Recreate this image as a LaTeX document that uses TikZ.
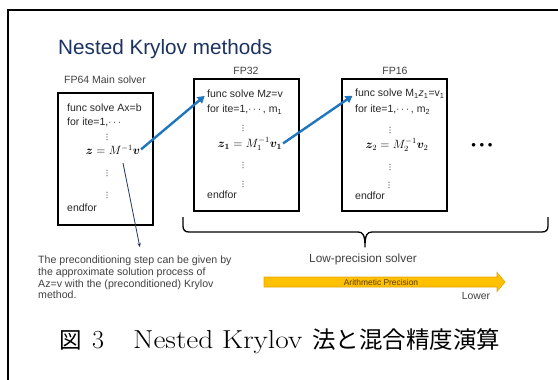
\documentclass[tikz,border=0pt]{standalone}
\usepackage{fontspec}
\usepackage{amsmath,bm}
\setsansfont{Liberation Sans}
\newfontfamily\cjk{Noto Sans CJK JP}
\usetikzlibrary{arrows.meta,calc}
\definecolor{titleblue}{RGB}{28,50,96}
\definecolor{arrowblue}{RGB}{31,117,190}
\definecolor{notenavy}{RGB}{30,50,100}
\definecolor{gold}{RGB}{255,192,0}
\definecolor{golddark}{RGB}{225,165,0}
\definecolor{txtgray}{RGB}{64,64,64}
\definecolor{precbrown}{RGB}{85,60,0}
% vertical dots drawn as three small discs
\newcommand\vdt[2]{\fill[black!75] (#1,#2-2.7) circle (0.6pt) (#1,#2) circle (0.6pt) (#1,#2+2.7) circle (0.6pt);}
\tikzset{
  codebox/.style={draw, line width=1.3pt, minimum width=#1, minimum height=132pt, inner sep=0pt},
  codetxt/.style={font=\sffamily\fontsize{10.5}{12}\selectfont, text=black!85, inner sep=0pt, anchor=west},
  mathtxt/.style={font=\fontsize{12}{14}\selectfont, inner sep=0pt},
  lbl/.style={font=\sffamily\fontsize{10.5}{12}\selectfont, text=txtgray, inner sep=0pt},
  bluearrow/.style={draw=arrowblue, line width=2.4pt, -{Triangle[length=7pt,width=8pt]}, shorten >=3pt, shorten <=1pt},
  noteline/.style={draw=notenavy, line width=0.8pt, -{Stealth[length=4pt,width=3.5pt]}}
}
\begin{document}
\begin{tikzpicture}[x=1pt,y=-1pt]
\useasboundingbox (0,0) rectangle (558,380);
\fill[white] (0,0) rectangle (558,380);
% outer frame (left and top edges visible)
\draw[line width=1.6pt] (8,380) -- (8,10) -- (558,10);

% title
\node[anchor=base west, inner sep=0pt, font=\sffamily\fontsize{20.7}{24}\selectfont, text=titleblue] (title) at (58,54.3) {Nested Krylov methods};

% labels
\node[lbl] (fp64) at (105,80) {FP64 Main solver};
\node[lbl] (fp32) at (246,71) {FP32};
\node[lbl] (fp16) at (395,71) {FP16};

% box 1
\node[codebox=95pt] (b1) at (105.5,159) {};
\node[codetxt] (b1l1) at (67,107.7) {func solve Ax=b};
\node[codetxt] (b1l2) at (67,122.7) {for ite=1,$\cdots$};
\vdt{107}{137}
\node[mathtxt] (b1z) at (113,150) {$\bm{z}=M^{-1}\bm{v}$};
\vdt{107}{173}
\vdt{107}{195}
\node[codetxt] (b1l3) at (67,208) {endfor};

% box 2
\node[codebox=105pt] (b2) at (246.5,145) {};
\node[codetxt] (b2l1) at (207,94) {func solve M\textit{z}=v};
\node[codetxt] (b2l2) at (207,110) {for ite=1,$\cdots$, m\textsubscript{1}};
\vdt{243}{128}
\node[mathtxt] (b2z) at (250,144) {$\bm{z_1}=M_1^{-1}\bm{v_1}$};
\vdt{243}{165}
\vdt{243}{184}
\node[codetxt] (b2l3) at (207,195) {endfor};

% box 3
\node[codebox=105pt] (b3) at (394.5,145) {};
\node[codetxt] (b3l1) at (355,94) {func solve M\textsubscript{1}\textit{z}\textsubscript{1}=v\textsubscript{1}};
\node[codetxt] (b3l2) at (355,110) {for ite=1,$\cdots$, m\textsubscript{2}};
\vdt{390}{130}
\node[mathtxt] (b3z) at (397,145) {$\bm{z}_2=M_2^{-1}\bm{v}_2$};
\vdt{390}{167}
\vdt{389}{185}
\node[codetxt] (b3l3) at (355,196) {endfor};

% continuation dots
\node[inner sep=0pt, font=\fontsize{9}{10}\selectfont] (dots) at (482,145) {$\bullet\,\bullet\,\bullet$};

% blue arrows
\draw[bluearrow] (b1z.east) -- (b2l1.west);
\draw[bluearrow] (b2z.east) -- (b3l1.west);

% note
\node[anchor=north west, inner sep=0pt, align=left, text=txtgray,
      font=\sffamily\fontsize{10.6}{11.7}\selectfont] (note) at (38,256) {The preconditioning step can be given by\\the approximate solution process of\\Az=v with the (preconditioned) Krylov\\method.};
\coordinate (ns) at (123,163);
\draw[noteline] (ns) -- ([xshift=5pt,yshift=9pt]note.north);

% brace
\draw[line width=1.3pt, line join=round] (183,217) -- (183,226) .. controls (183,230) and (185,232) .. (189,232)
  -- (358,232) .. controls (363,232) and (365,235) .. (365,247)
  .. controls (365,235) and (367,232) .. (372,232) -- (542,232)
  .. controls (546,232) and (548,230) .. (548,226) -- (548,217);
\node[lbl, font=\sffamily\fontsize{11.8}{13}\selectfont] (low) at (363,259) {Low-precision solver};

% precision arrow
\draw[fill=gold, draw=golddark, line width=0.6pt, line join=miter]
  (264,277) -- (497,277) -- (497,272.5) -- (505,282) -- (497,291.5) -- (497,287) -- (264,287) -- cycle;
\node[inner sep=0pt, text=precbrown, font=\sffamily\fontsize{8.4}{10}\selectfont] (prec) at (381,282) {Arithmetic Precision};
\node[lbl, font=\sffamily\fontsize{10.4}{12}\selectfont] (lower) at (476,296) {Lower};

% caption
\node[anchor=base west, inner sep=0pt, font=\fontsize{26}{30}\selectfont] (cap) at (59,348)
  {\makebox[33pt][l]{\cjk\fontsize{22.5}{26}\selectfont 図}\makebox[41pt][l]{3}\makebox[179pt][l]{\scalebox{1.13}[1]{Nested Krylov}}{\cjk\fontsize{23.5}{26}\selectfont 法と混合精度演算}};
\end{tikzpicture}
\end{document}
